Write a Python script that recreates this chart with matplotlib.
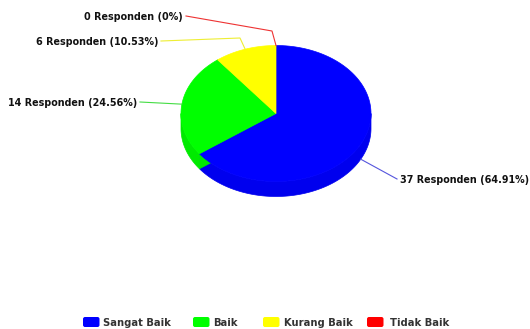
import numpy as np
import matplotlib
matplotlib.use("Agg")
import matplotlib.pyplot as plt
from matplotlib.patches import Polygon, FancyBboxPatch

# Survey results
categories = ["Sangat Baik", "Baik", "Kurang Baik", "Tidak Baik"]
responden = [37, 14, 6, 0]
top_colors = ["#0000ff", "#00ff00", "#ffff00", "#ff0000"]
side_colors = ["#0000ee", "#00ea00", "#eeee00", "#ee0000"]

# Canvas in pixel units
W, H = 530, 329
fig = plt.figure(figsize=(W / 100, H / 100), dpi=100)
ax = fig.add_axes([0, 0, 1, 1])
ax.set_xlim(0, W)
ax.set_ylim(H, 0)
ax.axis("off")

# Tilted pie geometry
cx, cy, rx, ry, depth = 276, 113.5, 95, 68, 15


def ell(theta_deg, dy=0.0):
    t = np.radians(theta_deg)
    return cx + rx * np.cos(t), cy - ry * np.sin(t) + dy


def arc(a0, a1, dy=0.0, n=120):
    th = np.linspace(a0, a1, n)
    x, y = ell(th, dy)
    return np.column_stack([x, y])


total = sum(responden)
fracs = [v / total for v in responden]
starts, ends = [], []
a = 90.0
for f in fracs:
    starts.append(a)
    a -= 360.0 * f
    ends.append(a)

# Outer side faces on the front half of the pie
for i, f in enumerate(fracs):
    if f <= 0:
        continue
    lo, hi = ends[i], starts[i]
    for k in range(-2, 3):
        f0, f1 = 180 + 360 * k, 360 + 360 * k
        s0, s1 = max(lo, f0), min(hi, f1)
        if s1 > s0:
            top = arc(s0, s1)
            bot = arc(s1, s0, dy=depth)
            ax.add_patch(Polygon(np.vstack([top, bot]), closed=True,
                                 facecolor=side_colors[i], edgecolor=side_colors[i],
                                 lw=0.5, zorder=1))

# Radial walls that face the viewer
for i, f in enumerate(fracs):
    if f <= 0:
        continue
    for edge_ang, normal in ((starts[i], starts[i] + 90), (ends[i], ends[i] - 90)):
        if np.sin(np.radians(normal)) < -1e-6:
            ox, oy = ell(edge_ang)
            quad = [(cx, cy), (ox, oy), (ox, oy + depth), (cx, cy + depth)]
            ax.add_patch(Polygon(quad, closed=True, facecolor=side_colors[i],
                                 edgecolor=side_colors[i], lw=0.5, zorder=2))

# Top faces
for i, f in enumerate(fracs):
    if f <= 0:
        continue
    pts = np.vstack([[cx, cy], arc(starts[i], ends[i])])
    ax.add_patch(Polygon(pts, closed=True, facecolor=top_colors[i],
                         edgecolor=top_colors[i], lw=0.5, zorder=3))


def pct_text(v):
    return f"{round(100 * v / total, 2):g}%"


# Data labels with connectors: (text anchor x, y, alignment, elbow or None)
label_layout = [
    (400, 180, "left", None),
    (137, 103, "right", None),
    (158, 42, "right", (240, 38)),
    (183, 17, "right", (272, 31)),
]
conn_colors = ["#5555dd", "#44dd44", "#eeee33", "#ee3333"]
for i, v in enumerate(responden):
    mid = (starts[i] + ends[i]) / 2
    s = np.sin(np.radians(mid))
    ax_, ay_ = ell(mid, dy=depth if s < 0 else 0)
    tx, ty, ha, elbow = label_layout[i]
    sx = tx + (3 if ha == "right" else -3)
    pts = [(sx, ty - 1)]
    if elbow is not None:
        pts.append(elbow)
    pts.append((ax_, ay_))
    pts = np.array(pts)
    ax.plot(pts[:, 0], pts[:, 1], color=conn_colors[i], lw=0.8, zorder=4,
            solid_joinstyle="round")
    ax.text(tx, ty, f"{v} Responden ({pct_text(v)})", ha=ha, va="center",
            fontsize=6.9, fontweight="bold", color="#111111", zorder=5)

# Legend
legend_items = [(83, 103), (193, 213), (263, 284), (367, 390)]
for i, name in enumerate(categories):
    bx, txx = legend_items[i]
    ax.add_patch(FancyBboxPatch((bx, 317), 16.5, 10,
                                boxstyle="round,pad=0,rounding_size=2",
                                facecolor=top_colors[i], edgecolor="none", zorder=3))
    ax.text(txx, 322.5, name, ha="left", va="center", fontsize=7.2,
            fontweight="bold", color="#333333")

fig.savefig("out.png", dpi=100)
